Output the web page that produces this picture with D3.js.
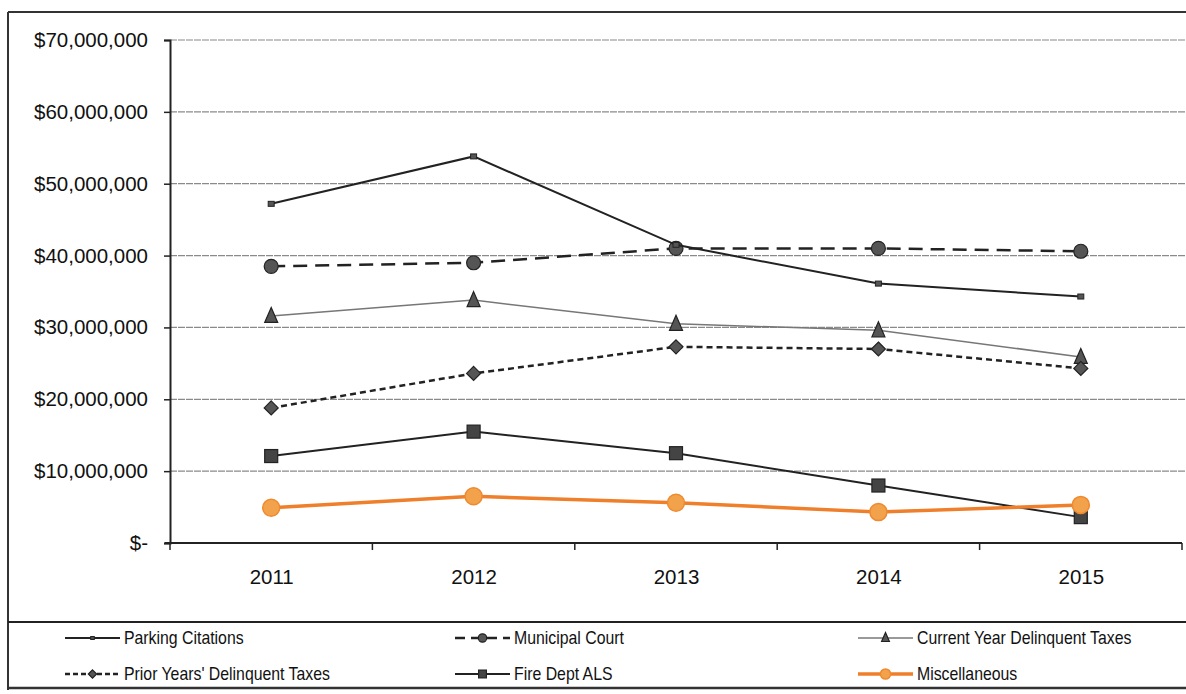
<!DOCTYPE html>
<html><head><meta charset="utf-8">
<script src="https://cdn.jsdelivr.net/npm/d3@7"></script>
<style>
html,body{margin:0;padding:0;background:#fff;}
svg{display:block;}
</style></head>
<body>
<svg id="c" width="1186" height="694"></svg>
<script>
const years = ["2011","2012","2013","2014","2015"];
const yTicks = [0,10000000,20000000,30000000,40000000,50000000,60000000,70000000];
const parkingCitations = [47200000,53800000,41500000,36100000,34300000];
const municipalCourt = [38500000,39000000,41000000,41000000,40600000];
const currentYearDelinquent = [31600000,33800000,30500000,29600000,25900000];
const priorYearsDelinquent = [18800000,23600000,27300000,27000000,24300000];
const fireDeptALS = [12100000,15500000,12500000,8000000,3600000];
const miscellaneous = [4900000,6500000,5600000,4300000,5300000];

const seriesNames = ["Parking Citations","Municipal Court","Current Year Delinquent Taxes","Prior Years' Delinquent Taxes","Fire Dept ALS","Miscellaneous"];
const seriesValues = [parkingCitations,municipalCourt,currentYearDelinquent,priorYearsDelinquent,fireDeptALS,miscellaneous];
const styles = [
  {stroke:"#222",w:2,dash:null,marker:"smallsquare"},
  {stroke:"#222",w:2.5,dash:"14,8",marker:"circle"},
  {stroke:"#777",w:1.5,dash:null,marker:"triangle"},
  {stroke:"#222",w:2.5,dash:"6,4",marker:"diamond"},
  {stroke:"#222",w:2,dash:null,marker:"square"},
  {stroke:"#ef7f2a",w:3.5,dash:null,marker:"orange"}
];

const svg = d3.select("#c");
const pLeft = 170, pRight = 1182, pTop = 40, pBottom = 543;

// frame
svg.append("line").attr("x1",8).attr("x2",1186).attr("y1",12).attr("y2",12).attr("stroke","#333").attr("stroke-width",2);
svg.append("line").attr("x1",8).attr("x2",8).attr("y1",12).attr("y2",690).attr("stroke","#333").attr("stroke-width",2);
svg.append("line").attr("x1",8).attr("x2",1186).attr("y1",622).attr("y2",622).attr("stroke","#222").attr("stroke-width",2);
svg.append("line").attr("x1",8).attr("x2",1186).attr("y1",688).attr("y2",688).attr("stroke","#333").attr("stroke-width",2.5);

const x = d3.scalePoint().domain(years).range([pLeft,pRight]).padding(0.5);
const xBand = d3.scaleBand().domain(years).range([pLeft,pRight]);
const y = d3.scaleLinear().domain([0,70000000]).range([pBottom,pTop]);

// gridlines
svg.append("g").selectAll("line").data(yTicks.filter(d=>d>0)).join("line")
  .attr("x1",pLeft).attr("x2",1186).attr("y1",d=>y(d)).attr("y2",d=>y(d))
  .attr("stroke","#8a8a8a").attr("stroke-width",1.2).attr("stroke-dasharray","7,1");

// y axis
const fmt = d => d===0 ? "$-" : "$" + d3.format(",")(d);
const yAxis = svg.append("g").attr("transform",`translate(${pLeft},0)`)
  .call(d3.axisLeft(y).tickValues(yTicks).tickSize(6).tickFormat(fmt));
yAxis.select(".domain").attr("stroke","#222").attr("stroke-width",2);
yAxis.selectAll(".tick line").attr("stroke","#222").attr("stroke-width",1.5);
yAxis.selectAll(".tick text").attr("x",-22).attr("font-family","'Liberation Sans',Arial,sans-serif").attr("font-size","20.5px").attr("fill","#111");

// x axis
const xAxis = svg.append("g").attr("transform",`translate(0,${pBottom})`)
  .call(d3.axisBottom(x).tickSize(0).tickPadding(26));
xAxis.select(".domain").remove();
xAxis.selectAll(".tick text").attr("font-family","'Liberation Sans',Arial,sans-serif").attr("font-size","20.5px").attr("fill","#111");
svg.append("line").attr("x1",pLeft-5).attr("x2",pRight).attr("y1",pBottom).attr("y2",pBottom).attr("stroke","#222").attr("stroke-width",2);
svg.append("g").selectAll("line").data(years.map(d=>xBand(d)+xBand.bandwidth()).concat([pLeft])).join("line")
  .attr("x1",d=>d).attr("x2",d=>d).attr("y1",pBottom).attr("y2",pBottom+7).attr("stroke","#222").attr("stroke-width",1.5);

function drawMarker(g, type, cx, cy, scale){
  const s = scale||1;
  if(type==="smallsquare"){
    g.append("rect").attr("x",cx-3*s).attr("y",cy-2.5*s).attr("width",6*s).attr("height",5*s).attr("fill","#555").attr("stroke","#222").attr("stroke-width",1);
  } else if(type==="circle"){
    g.append("circle").attr("cx",cx).attr("cy",cy).attr("r",7*s).attr("fill","#555").attr("stroke","#222").attr("stroke-width",1.2);
  } else if(type==="triangle"){
    const h=15*s, w=13*s;
    g.append("path").attr("d",`M${cx},${cy-h/2-1}L${cx+w/2},${cy+h/2-1}L${cx-w/2},${cy+h/2-1}Z`).attr("fill","#555").attr("stroke","#222").attr("stroke-width",1.2);
  } else if(type==="diamond"){
    const r=7*s;
    g.append("path").attr("d",`M${cx},${cy-r}L${cx+r},${cy}L${cx},${cy+r}L${cx-r},${cy}Z`).attr("fill","#555").attr("stroke","#222").attr("stroke-width",1.2);
  } else if(type==="square"){
    const r=6.5*s;
    g.append("rect").attr("x",cx-r).attr("y",cy-r).attr("width",2*r).attr("height",2*r).attr("fill","#444").attr("stroke","#222").attr("stroke-width",1.2);
  } else if(type==="orange"){
    g.append("circle").attr("cx",cx).attr("cy",cy).attr("r",8.5*s).attr("fill","#f2a24a").attr("stroke","#ef8a30").attr("stroke-width",1.5);
  }
}

const line = d3.line().x((d,i)=>x(years[i])).y(d=>y(d));
const plot = svg.append("g");
// draw order: current, prior, municipal, parking, fire, misc
[2,3,1,0,4,5].forEach(k=>{
  const st = styles[k];
  const g = plot.append("g");
  g.append("path").datum(seriesValues[k]).attr("d",line).attr("fill","none")
    .attr("stroke",st.stroke).attr("stroke-width",st.w).attr("stroke-dasharray",st.dash);
  seriesValues[k].forEach((v,i)=>drawMarker(g, st.marker, x(years[i]), y(v)));
});

// legend
const legPos = [[65,638],[455,638],[858,638],[65,674],[455,674],[858,674]];
const lg = svg.append("g");
seriesNames.forEach((name,k)=>{
  const [lx,ly] = legPos[k];
  const st = styles[k];
  const sw = 55;
  lg.append("line").attr("x1",lx).attr("x2",lx+sw).attr("y1",ly).attr("y2",ly)
    .attr("stroke",st.stroke).attr("stroke-width",st.w).attr("stroke-dasharray",k===1?"10,6":(k===3?"5,3":null));
  drawMarker(lg, st.marker, lx+sw/2, ly, 0.6);
  lg.append("text").attr("transform",`translate(${lx+sw+4},${ly}) scale(0.88,1)`).attr("dy","0.35em")
    .attr("font-family","'Liberation Sans Narrow','Arial Narrow','Liberation Sans',sans-serif")
    .attr("font-size","18px").attr("fill","#111").text(name);
});
</script>
</body></html>
